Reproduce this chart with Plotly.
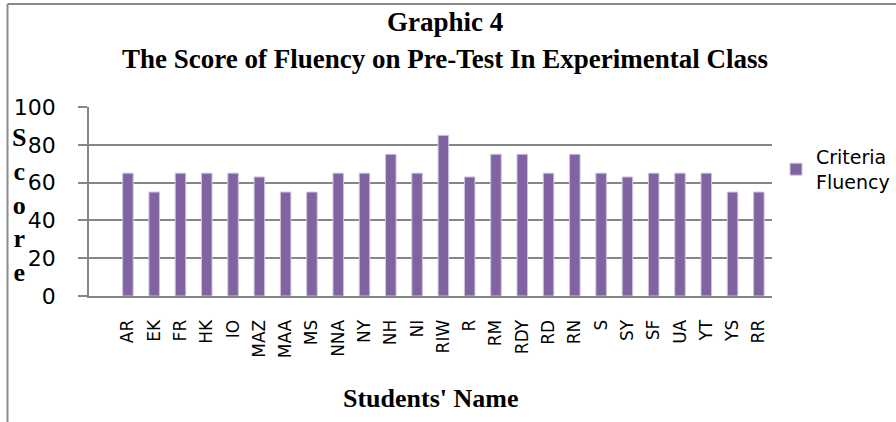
import plotly.graph_objects as go

students = ["AR", "EK", "FR", "HK", "IO", "MAZ", "MAA", "MS", "NNA", "NY", "NH", "NI", "RIW",
            "R", "RM", "RDY", "RD", "RN", "S", "SY", "SF", "UA", "YT", "YS", "RR"]
fluency = [65, 55, 65, 65, 65, 63, 55, 55, 65, 65, 75, 65, 85,
           63, 75, 75, 65, 75, 65, 63, 65, 65, 65, 55, 55]
y_ticks = [0, 20, 40, 60, 80, 100]

W, H = 896, 422
L, R, T, B = 89, 772, 107, 296
pw, ph = R - L, B - T

def px(x):
    return (x - L) / pw

def py(y):
    return (B - y) / ph

fig = go.Figure()
fig.add_trace(go.Bar(
    x=list(range(len(students))), y=fluency, name="Criteria<br>Fluency",
    width=0.4,
    marker=dict(color="#8064A2", line=dict(color="#cfc3e0", width=1)),
))

serif = "Liberation Serif"
sans = "DejaVu Sans"

fig.update_layout(
    width=W, height=H,
    margin=dict(l=L, r=W - R, t=T, b=H - B, autoexpand=False),
    paper_bgcolor="white", plot_bgcolor="white",
    showlegend=True,
    legend=dict(x=px(776), y=py(138), xanchor="left", yanchor="top",
                font=dict(family=sans, size=19, color="#000"),
                itemwidth=30, bgcolor="rgba(0,0,0,0)", tracegroupgap=0),
    xaxis=dict(
        range=[-1.48, 24.5],
        tickmode="array", tickvals=list(range(len(students))), ticktext=students,
        tickangle=-90, tickfont=dict(family=sans, size=17, color="#000"),
        showgrid=False, showline=True, linecolor="#868686", linewidth=2,
        ticks="", ticklabelstandoff=15, zeroline=False,
    ),
    yaxis=dict(
        range=[0, 100], tickvals=y_ticks,
        tickfont=dict(family=sans, size=22, color="#000"),
        showgrid=True, gridcolor="#868686", gridwidth=1.5,
        showline=True, linecolor="#868686", linewidth=1.5,
        ticks="outside", ticklen=9, tickcolor="#868686", tickwidth=1.5,
        ticklabelstandoff=18, zeroline=False,
    ),
    annotations=[
        dict(text="<b>Graphic 4</b>", x=px(445), y=py(22), xref="paper", yref="paper",
             showarrow=False, font=dict(family=serif, size=27, color="#000"),
             xanchor="center", yanchor="middle"),
        dict(text="<b>The Score of Fluency on Pre-Test In Experimental Class</b>",
             x=px(445), y=py(59), xref="paper", yref="paper",
             showarrow=False, font=dict(family=serif, size=27, color="#000"),
             xanchor="center", yanchor="middle"),
        dict(text="<b>Students' Name</b>", x=px(431), y=py(398), xref="paper", yref="paper",
             showarrow=False, font=dict(family=serif, size=26, color="#000"),
             xanchor="center", yanchor="middle"),
        dict(text="<b>S<br>c<br>o<br>r<br>e</b>", x=px(19), y=py(205), xref="paper", yref="paper",
             showarrow=False, font=dict(family=serif, size=26, color="#000"),
             xanchor="center", yanchor="middle", align="center"),
    ],
    shapes=[
        dict(type="line", xref="paper", yref="paper", x0=px(7.5), x1=px(7.5), y0=py(4), y1=py(430),
             line=dict(color="#8a8a8a", width=2)),
        dict(type="line", xref="paper", yref="paper", x0=px(7.5), x1=px(900), y0=py(4), y1=py(4),
             line=dict(color="#8a8a8a", width=2)),
    ],
)

fig.write_html("out.html", config={"displayModeBar": False},
               post_script="document.body.style.margin='0px';")
